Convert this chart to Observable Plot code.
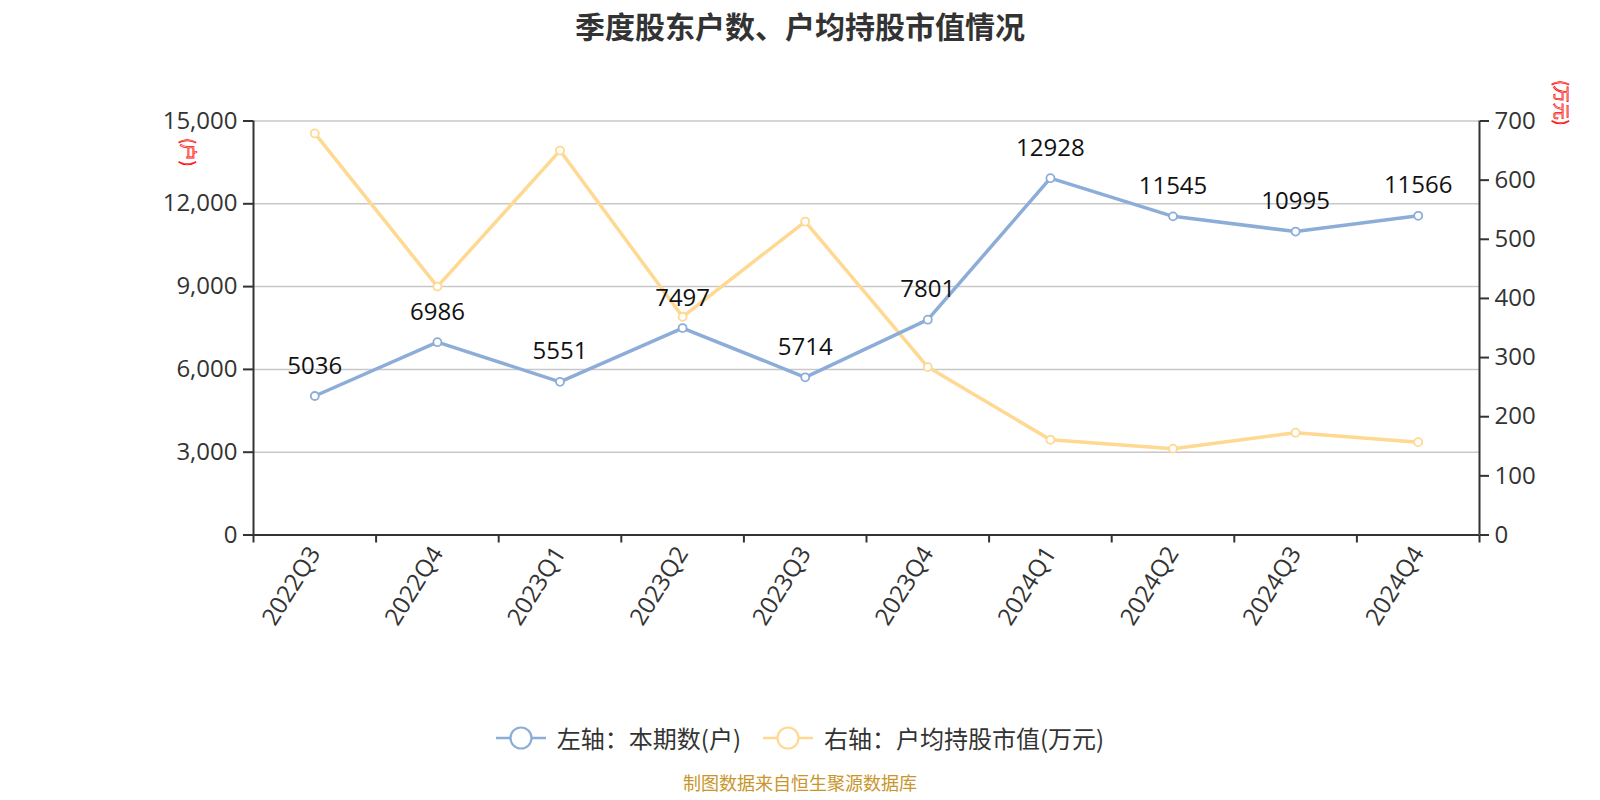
<!DOCTYPE html>
<html>
<head>
<meta charset="utf-8">
<script src="https://cdn.jsdelivr.net/npm/d3@7"></script>
<script src="https://cdn.jsdelivr.net/npm/@observablehq/plot@0.6"></script>
<style>
  html, body { margin: 0; padding: 0; background: #fff; }
  #wrap { position: relative; width: 1600px; height: 800px; font-family: "Open Sans", "Noto Sans CJK SC", sans-serif; color: #333; overflow: hidden; }
  #chart { position: absolute; left: 0; top: 0; }
  #title { position: absolute; top: 3px; left: 0; width: 1600px; text-align: center; font-size: 30px; font-weight: bold; color: #333; font-family: "Noto Sans CJK SC", sans-serif; }
  .unit { position: absolute; font-size: 17px; color: rgba(255,0,0,0.08); -webkit-text-stroke: 0.7px #f00; font-family: "Noto Sans CJK SC", sans-serif; transform-origin: left top; transform: rotate(90deg); white-space: nowrap; }
  #legend { position: absolute; top: 720px; left: 0; width: 1600px; display: flex; justify-content: center; align-items: center; font-size: 24px; color: #333; font-family: "Noto Sans CJK SC", sans-serif; }
  .item { display: flex; align-items: center; margin: 0 11px; }
  .item svg { margin-right: 11px; }
  #caption { position: absolute; top: 771px; left: 0; width: 1600px; text-align: center; font-size: 18px; line-height: 22px; color: #c8962a; font-family: "Noto Sans CJK SC", sans-serif; }
</style>
</head>
<body>
<div id="wrap">
  <div id="chart"></div>
  <div id="title">季度股东户数、户均持股市值情况</div>
  <div class="unit" style="left:202px; top:138px;">(户)</div>
  <div class="unit" style="left:1575px; top:80px;">(万元)</div>
  <div id="legend"></div>
  <div id="caption">制图数据来自恒生聚源数据库</div>
</div>
<script>
const quarters = ["2022Q3","2022Q4","2023Q1","2023Q2","2023Q3","2023Q4","2024Q1","2024Q2","2024Q3","2024Q4"];
const holders = [5036, 6986, 5551, 7497, 5714, 7801, 12928, 11545, 10995, 11566];
const avgValue = [679, 420, 650, 369, 530, 284, 161, 146, 173, 157];
const leftTicks = [0, 3000, 6000, 9000, 12000, 15000];
const rightTicks = [0, 100, 200, 300, 400, 500, 600, 700];
const seriesNames = ["左轴：本期数(户)", "右轴：户均持股市值(万元)"];
const colors = ["#8dadd9", "#ffd892"];

const leftMax = 15000, rightMax = 700;
const toLeft = v => v * leftMax / rightMax;

const blue = quarters.map((q, i) => ({i, v: holders[i]}));
const yellow = quarters.map((q, i) => ({i, v: toLeft(avgValue[i])}));

const W = 1600, H = 680;
const chart = Plot.plot({
  width: W,
  height: H,
  marginTop: 120.5,
  marginBottom: H - 534.5,
  marginLeft: 253,
  marginRight: 121,
  style: {fontFamily: "'Open Sans', 'Noto Sans CJK SC', sans-serif", fontSize: "24px", color: "#333", background: "transparent"},
  x: {type: "linear", domain: [-0.5, quarters.length - 0.5]},
  y: {domain: [0, leftMax]},
  marks: [
    Plot.gridY(leftTicks.filter(d => d > 0), {stroke: "#c8c8c8", strokeOpacity: 1, strokeWidth: 1.5}),
    Plot.axisY(leftTicks, {anchor: "left", tickSize: 10, tickPadding: 6, tickFormat: d3.format(","), stroke: "#333", strokeWidth: 2, fill: "#333", label: null}),
    Plot.axisY(rightTicks.map(toLeft), {anchor: "right", tickSize: 9, tickPadding: 6, tickFormat: d => String(Math.round(d * rightMax / leftMax)), stroke: "#333", strokeWidth: 2, fill: "#333", label: null}),
    Plot.axisX(d3.range(-0.5, quarters.length), {tickSize: 8, tickFormat: () => "", stroke: "#333", strokeWidth: 2, label: null}),
    Plot.axisX(d3.range(quarters.length), {tickSize: 0, tickPadding: 14, tickRotate: -58, tickFormat: i => quarters[i], fill: "#333", label: null}),
    Plot.ruleX([-0.5], {stroke: "#333", strokeWidth: 2}),
    Plot.ruleX([quarters.length - 0.5], {stroke: "#333", strokeWidth: 2}),
    Plot.ruleY([0], {stroke: "#333", strokeWidth: 2}),
    Plot.line(yellow, {x: "i", y: "v", stroke: colors[1], strokeWidth: 3.5}),
    Plot.dot(yellow, {x: "i", y: "v", r: 4, fill: "#fff", stroke: colors[1], strokeWidth: 1.8}),
    Plot.line(blue, {x: "i", y: "v", stroke: colors[0], strokeWidth: 3.5}),
    Plot.dot(blue, {x: "i", y: "v", r: 4, fill: "#fff", stroke: colors[0], strokeWidth: 1.8}),
    Plot.text(blue, {x: "i", y: "v", text: d => String(d.v), dy: -30, fill: "#111", fontSize: 24})
  ]
});
document.getElementById("chart").appendChild(chart);

const legend = document.getElementById("legend");
seriesNames.forEach((name, k) => {
  const item = document.createElement("div");
  item.className = "item";
  item.innerHTML = `<svg width="50" height="26"><line x1="0" y1="13" x2="50" y2="13" stroke="${colors[k]}" stroke-width="2.5"/><circle cx="25" cy="13" r="10.5" fill="#fff" stroke="${colors[k]}" stroke-width="2.2"/></svg><span>${name}</span>`;
  legend.appendChild(item);
});
</script>
</body>
</html>
